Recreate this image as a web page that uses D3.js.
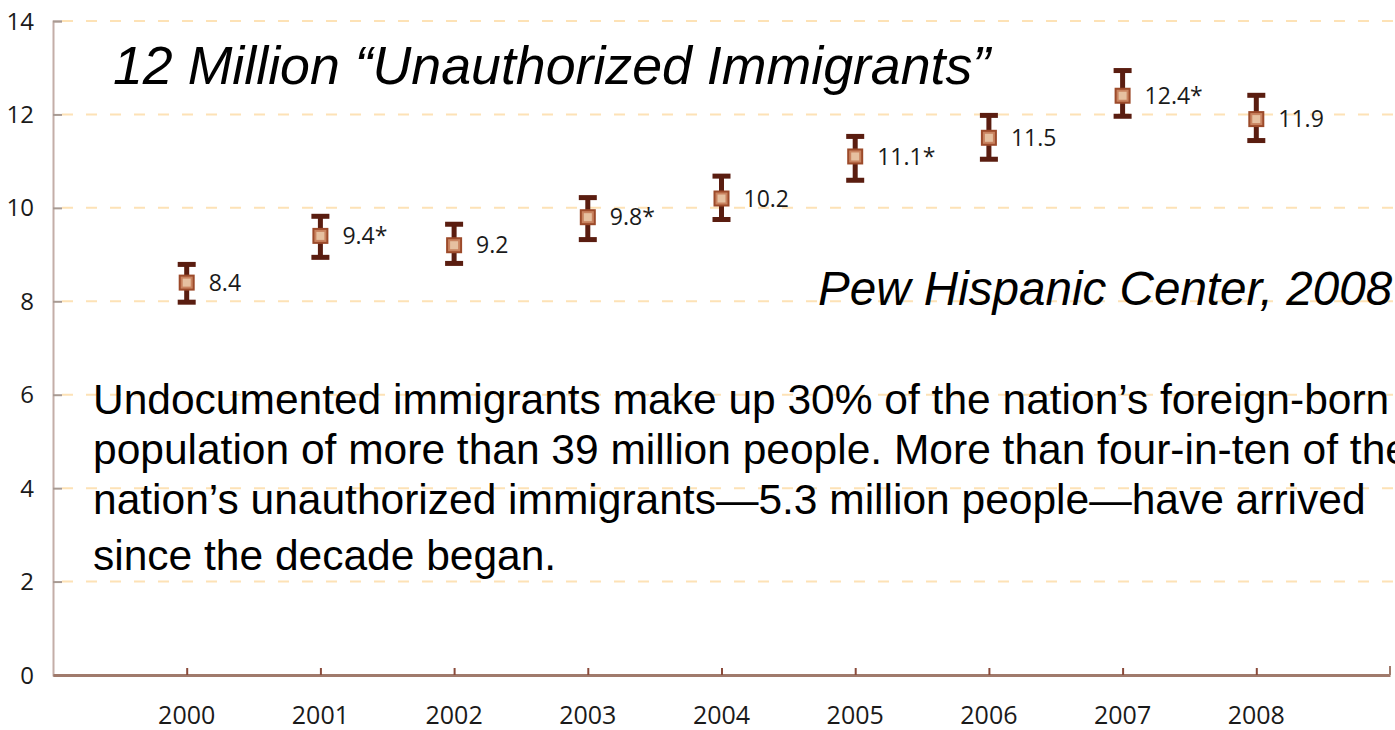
<!DOCTYPE html>
<html><head><meta charset="utf-8">
<script src="https://cdn.jsdelivr.net/npm/d3@7"></script>
<style>html,body{margin:0;padding:0;background:#fff;overflow:hidden}</style>
</head><body>
<svg id="c" width="1395" height="730"></svg>
<script>
const years = ["2000","2001","2002","2003","2004","2005","2006","2007","2008"];
const estimates = [8.4, 9.4, 9.2, 9.8, 10.2, 11.1, 11.5, 12.4, 11.9];
const lows  = [7.97, 8.93, 8.80, 9.31, 9.74, 10.58, 11.03, 11.95, 11.43];
const highs = [8.80, 9.83, 9.66, 10.23, 10.69, 11.54, 11.99, 12.95, 12.42];
const pointLabels = ["8.4","9.4*","9.2","9.8*","10.2","11.1*","11.5","12.4*","11.9"];
const yTicks = [0,2,4,6,8,10,12,14];
const title = "12 Million \u201CUnauthorized Immigrants\u201D";
const source = "Pew Hispanic Center, 2008";
const paragraph = [
  "Undocumented immigrants make up 30% of the nation\u2019s foreign-born",
  "population of more than 39 million people. More than four-in-ten of the",
  "nation\u2019s unauthorized immigrants\u20145.3 million people\u2014have arrived",
  "since the decade began."
];

const svg = d3.select("#c");
const x = d3.scalePoint().domain(years).range([53, 1390]).padding(1);
const y = d3.scaleLinear().domain([0,14]).range([675, 21]);

// gridlines
svg.append("g").selectAll("line").data(yTicks.filter(d=>d>0)).join("line")
  .attr("x1", 62).attr("x2", 1395)
  .attr("y1", d=>y(d)).attr("y2", d=>y(d))
  .attr("stroke", "#fde2b6").attr("stroke-width", 2).attr("stroke-dasharray", "11,13");

// y axis
const yAxis = svg.append("g").attr("transform","translate(53,0)")
  .call(d3.axisRight(y).tickValues(yTicks).tickSize(9).tickFormat(""));
yAxis.select(".domain").attr("stroke","#c4aea8").attr("stroke-width",2);
yAxis.selectAll(".tick line").attr("stroke","#a89a92").attr("stroke-width",2);
svg.append("g").selectAll("text").data(yTicks).join("text")
  .attr("x", 34).attr("y", d=>y(d)).attr("dy","0.36em")
  .attr("text-anchor","end").attr("font-family","Open Sans").attr("font-size",24)
  .attr("fill","#1a1a1a").text(d=>d);

// x axis
const xAxis = svg.append("g").attr("transform","translate(0,675)")
  .call(d3.axisTop(x).tickSize(7).tickSizeOuter(0).tickFormat(""));
xAxis.select(".domain").attr("stroke","#a07a6c").attr("stroke-width",3);
xAxis.selectAll(".tick line").attr("stroke","#8a4a3a").attr("stroke-width",2);
svg.append("line").attr("x1",1390).attr("x2",1390).attr("y1",675).attr("y2",666)
  .attr("stroke","#a07a6c").attr("stroke-width",2);
svg.append("g").selectAll("text").data(years).join("text")
  .attr("x", d=>x(d)).attr("y", 724)
  .attr("text-anchor","middle").attr("font-family","Open Sans").attr("font-size",25)
  .attr("fill","#1a1a1a").text(d=>d);

// error bars
const g = svg.append("g").selectAll("g").data(years).join("g");
const dark = "#5a1d10";
g.append("rect").attr("x", d=>x(d)-2.5).attr("width",5)
  .attr("y", (d,i)=>y(highs[i])).attr("height",(d,i)=>y(lows[i])-y(highs[i]))
  .attr("fill", dark);
g.append("rect").attr("x", d=>x(d)-9).attr("width",18)
  .attr("y", (d,i)=>y(highs[i])-2).attr("height",5).attr("fill",dark);
g.append("rect").attr("x", d=>x(d)-9).attr("width",18)
  .attr("y", (d,i)=>y(lows[i])-3).attr("height",5).attr("fill",dark);
g.append("rect").attr("x", d=>x(d)-8).attr("width",16)
  .attr("y", (d,i)=>y(estimates[i])-8).attr("height",16).attr("fill","#9c4a2a");
g.append("rect").attr("x", d=>x(d)-6).attr("width",12)
  .attr("y", (d,i)=>y(estimates[i])-6).attr("height",12).attr("fill","#c98360");
g.append("rect").attr("x", d=>x(d)-4).attr("width",8)
  .attr("y", (d,i)=>y(estimates[i])-4).attr("height",8).attr("fill","#e6c0a0");
g.append("text").attr("x", d=>x(d)+22).attr("y",(d,i)=>y(estimates[i]))
  .attr("dy","0.35em").attr("font-family","Open Sans").attr("font-size",23)
  .attr("fill","#1a1a1a").text((d,i)=>pointLabels[i]);

// annotations
svg.append("text").attr("x",113).attr("y",84).attr("font-family","Liberation Sans")
  .attr("font-style","italic").attr("font-size",53.7).attr("fill","#000").text(title);
svg.append("text").attr("x",818).attr("y",305).attr("font-family","Liberation Sans")
  .attr("font-style","italic").attr("font-size",47.6).attr("fill","#000").text(source);
const baselines = [414, 464, 514, 570];
svg.append("g").selectAll("text").data(paragraph).join("text")
  .attr("x",93).attr("y",(d,i)=>baselines[i]).attr("font-family","Liberation Sans")
  .attr("font-size",42.5).attr("fill","#000").text(d=>d);
</script>
</body></html>
